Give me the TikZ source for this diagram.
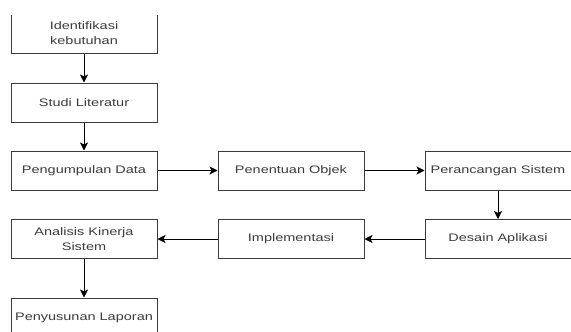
\documentclass[tikz,border=0pt]{standalone}
\usepackage{fontspec}
\setmainfont{Liberation Sans}[FakeStretch=1.33]
\usetikzlibrary{arrows.meta}
\definecolor{boxline}{HTML}{3A3A3A}
\definecolor{txt}{HTML}{3C3C3C}
\begin{document}
\begin{tikzpicture}[x=1pt,y=-1pt,
  stepbox/.style={draw=boxline,line width=1pt,fill=white,minimum width=146pt,minimum height=39pt,
    inner sep=0pt,align=center,text=txt,font=\fontsize{10.9}{15}\selectfont},
  conn/.style={draw=black,line width=1pt,-{Stealth[length=8pt,width=8pt,inset=2pt]}}]
\useasboundingbox (0,0) rectangle (571,332);
\clip (0,15.5) rectangle (571,332);
\node[stepbox] (ident) at (84,33.5) {Identifikasi\\kebutuhan};
\node[stepbox] (studi) at (84,102.5) {Studi Literatur};
\node[stepbox] (kumpul) at (84,170.5) {Pengumpulan Data};
\node[stepbox] (objek) at (291,170.5) {Penentuan Objek};
\node[stepbox] (rancang) at (498,170.5) {Perancangan Sistem};
\node[stepbox] (desain) at (498,239) {Desain Aplikasi};
\node[stepbox] (impl) at (291,239) {Implementasi};
\node[stepbox] (analisis) at (84,239) {Analisis Kinerja\\Sistem};
\node[stepbox] (lapor) at (84,317.5) {Penyusunan Laporan};
\draw[conn] (ident) -- (studi);
\draw[conn] (studi) -- (kumpul);
\draw[conn] (kumpul) -- (objek);
\draw[conn] (objek) -- (rancang);
\draw[conn] (rancang) -- (desain);
\draw[conn] (desain) -- (impl);
\draw[conn] (impl) -- (analisis);
\draw[conn] (analisis) -- (lapor);
\end{tikzpicture}
\end{document}
